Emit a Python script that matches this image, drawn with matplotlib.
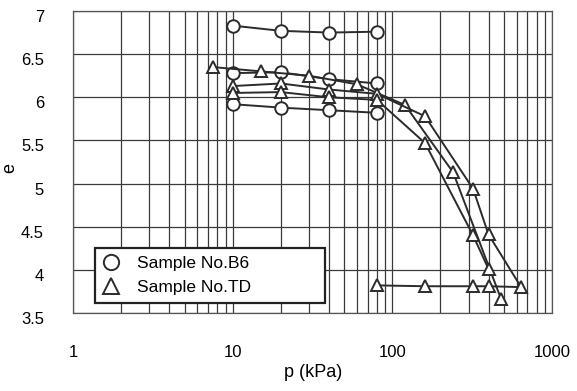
import matplotlib
matplotlib.use("Agg")
import matplotlib.pyplot as plt
from matplotlib.lines import Line2D
from matplotlib.transforms import ScaledTranslation
from matplotlib.ticker import FixedLocator, NullFormatter

plt.rcParams['font.family'] = ['Liberation Sans', 'DejaVu Sans']

# Sample No.B6 (circles)
p_b6 = [10, 20, 40, 80]
e_b6_1 = [6.83, 6.77, 6.75, 6.76]
e_b6_2 = [6.28, 6.29, 6.21, 6.16]
e_b6_3 = [5.92, 5.88, 5.85, 5.82]

# Sample No.TD (triangles)
p_td_1 = [7.5, 15, 30, 60, 120, 240, 480]
e_td_1 = [6.35, 6.30, 6.25, 6.15, 5.91, 5.13, 3.66]
p_td_2 = [10, 20, 40, 80, 160, 320, 400, 640, 400, 320, 160, 80]
e_td_2 = [6.13, 6.16, 6.09, 6.04, 5.78, 4.94, 4.41, 3.80, 3.81, 3.81, 3.81, 3.82]
p_td_3 = [10, 20, 40, 80, 160, 320, 400]
e_td_3 = [6.05, 6.06, 6.00, 5.97, 5.47, 4.40, 4.01]

x_ticks = [1, 10, 100, 1000]
x_labels = ['1', '10', '100', '1000']
y_ticks = [3.5, 4, 4.5, 5, 5.5, 6, 6.5, 7]
y_labels = ['3.5', '4', '4.5', '5', '5.5', '6', '6.5', '7']
legend_labels = ['Sample No.B6', 'Sample No.TD']

line_col = '#2b2b2b'
grid_col = '#3a3a3a'

fig = plt.figure(figsize=(5.77, 3.91), dpi=100)
ax = fig.add_axes([0.127, 0.1995, 0.8297, 0.7724])

ax.set_xscale('log')
ax.set_xlim(1, 1000)
ax.set_ylim(3.5, 7)

# full log grid: every decade plus 2..9 in between
minor = [m * 10 ** d for d in range(3) for m in range(2, 10)]
ax.xaxis.set_major_locator(FixedLocator(x_ticks))
ax.xaxis.set_minor_locator(FixedLocator(minor))
ax.xaxis.set_minor_formatter(NullFormatter())
ax.set_xticks(x_ticks, x_labels)
ax.set_yticks(y_ticks, y_labels)
ax.grid(True, which='both', axis='x', color=grid_col, lw=0.9)
ax.grid(True, which='major', axis='y', color=grid_col, lw=0.9)
ax.set_axisbelow(True)

ax.tick_params(which='both', length=0, labelsize=12)
ax.tick_params(axis='y', pad=21)
ax.tick_params(axis='x', pad=23)
for lab in ax.get_yticklabels():
    lab.set_transform(lab.get_transform() + ScaledTranslation(0, -0.05, fig.dpi_scale_trans))

for s in ax.spines.values():
    s.set_color('#555555')
    s.set_linewidth(0.9)

mk = dict(color=line_col, lw=1.4, markerfacecolor='white',
          markeredgecolor=line_col, markeredgewidth=1.4, markersize=9)

for e in (e_b6_1, e_b6_2, e_b6_3):
    ax.plot(p_b6, e, marker='o', **mk)
for p, e in ((p_td_1, e_td_1), (p_td_2, e_td_2), (p_td_3, e_td_3)):
    ax.plot(p, e, marker='^', **mk)

ax.set_xlabel('p (kPa)', fontsize=13)
ax.set_ylabel('e', fontsize=13)
ax.xaxis.set_label_coords(0.5, -0.17)
ax.yaxis.set_label_coords(-0.115, 0.48)

handles = [
    Line2D([], [], ls='none', marker='o', markersize=11, markerfacecolor='white',
           markeredgecolor=line_col, markeredgewidth=1.4),
    Line2D([], [], ls='none', marker='^', markersize=11, markerfacecolor='white',
           markeredgecolor=line_col, markeredgewidth=1.4),
]
leg = ax.legend(handles, legend_labels, loc='lower left',
                bbox_to_anchor=(0.045, 0.033, 0.481, 0.19), mode='expand',
                fontsize=12.5, frameon=True, fancybox=False, borderaxespad=0,
                borderpad=0.45, labelspacing=0.5, handlelength=1.0,
                handletextpad=1.0)
leg.get_frame().set_edgecolor('#222222')
leg.get_frame().set_linewidth(1.6)
leg.get_frame().set_alpha(1)

fig.savefig('out.png', dpi=100)
